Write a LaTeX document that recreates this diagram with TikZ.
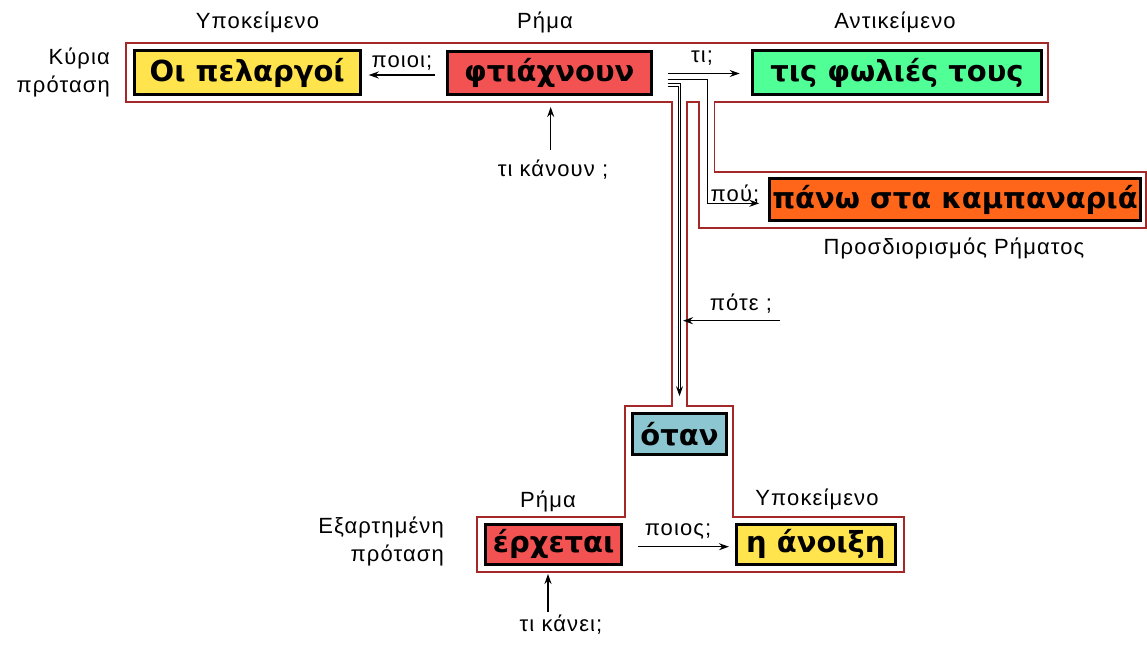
\documentclass[tikz,border=0pt]{standalone}
\usepackage{fontspec}
\setmainfont{Liberation Sans}
\newfontfamily\boxfont{DejaVu Sans}
\newfontfamily\labfont[LetterSpace=5]{Liberation Sans}
\usetikzlibrary{arrows.meta,calc}
\definecolor{outred}{RGB}{165,40,40}
\definecolor{fred}{RGB}{242,82,82}
\definecolor{fyellow}{RGB}{255,228,77}
\definecolor{fgreen}{RGB}{80,255,150}
\definecolor{forange}{RGB}{255,102,26}
\definecolor{fblue}{RGB}{140,198,208}
\begin{document}
\begin{tikzpicture}[x=1pt,y=-1pt,
  lab/.style={font=\labfont\fontsize{22}{28}\selectfont, inner sep=0pt},
  wbox/.style={draw=black, line width=3pt, inner sep=0pt,
    font=\boxfont\bfseries\fontsize{29}{30}\selectfont},
  outline/.style={draw=outred, line width=1.8pt},
  conn/.style={draw=black, line width=1.3pt, -{Stealth[length=10pt,width=7pt]}},
  dbl/.style={draw=black, line width=1pt, double=white, double distance=1.5pt,
    -{Stealth[length=10pt,width=7pt]}},
]
\useasboundingbox (0,0) rectangle (1147,650);

% red outline
\draw[outline] (126,43.3) -- (1048,43.3) -- (1048,101.7) -- (714.5,101.7)
  -- (714.5,172) -- (1146,172) -- (1146,228.3) -- (699,228.3) -- (699,101.7)
  -- (686.7,101.7) -- (686.7,405.7) -- (733.3,405.7) -- (733.3,516.7)
  -- (904,516.7) -- (904,571.7) -- (476.7,571.7) -- (476.7,516.7)
  -- (625,516.7) -- (625,405.7) -- (671.7,405.7) -- (671.7,101.7)
  -- (126,101.7) -- cycle;

% boxes
\node[wbox, fill=fyellow, minimum width=226pt, minimum height=44pt] (pel) at (247.2,73) {Οι πελαργοί};
\node[wbox, fill=fred, minimum width=203.7pt, minimum height=43pt] (fti) at (549.3,73) {φτιάχνουν};
\node[wbox, fill=fgreen, minimum width=289.6pt, minimum height=43.7pt] (obj) at (897,72.7) {τις φωλιές τους};
\node[wbox, fill=forange, minimum width=370.4pt, minimum height=41.4pt] (adv) at (955,199.5) {πάνω στα καμπαναριά};
\node[wbox, fill=fblue, minimum width=94.6pt, minimum height=40.7pt] (otan) at (679.5,434) {όταν};
\node[wbox, fill=fred, minimum width=136.3pt, minimum height=40.3pt] (erx) at (553.7,544.3) {έρχεται};
\node[wbox, fill=fyellow, minimum width=158.7pt, minimum height=40.3pt] (anoi) at (815.8,544.3) {η άνοιξη};

% labels
\node[lab] (lsubj) at (257.5,22) {Υποκείμενο};
\node[lab] (lverb) at (545,22) {Ρήμα};
\node[lab] (lobj) at (895,22) {Αντικείμενο};
\node[lab, align=right, anchor=east] (lmain) at (110,72) {Κύρια\\πρόταση};
\node[lab] (lpoioi) at (402,63) {ποιοι;};
\node[lab] (lti) at (702,58) {τι;};
\node[lab] (lpou) at (735,195) {πού;};
\node[lab] (ladv) at (954,248) {Προσδιορισμός Ρήματος};
\node[lab] (lpote) at (741,304) {πότε ;};
\node[lab] (ltik) at (553,170) {τι κάνουν ;};
\node[lab] (lverb2) at (548,501) {Ρήμα};
\node[lab] (lsubj2) at (817,499) {Υποκείμενο};
\node[lab, align=right, anchor=east] (lsub) at (444,541) {Εξαρτημένη\\πρόταση};
\node[lab] (lpoios) at (678,531) {ποιος;};
\node[lab] (ltike) at (561,625) {τι κάνει;};

% connectors
\coordinate (c1) at ($(fti.east)+(15,0.5)$);
\coordinate (c2) at ($(fti.east)+(15,6.3)$);
\coordinate (c2b) at (707.5,79.3);
\coordinate (c2c) at (707.5,203.3);
\coordinate (c3) at ($(fti.east)+(15,12)$);
\coordinate (c3b) at (679.5,85);
\coordinate (pote) at (780,320.7);
\coordinate (stem) at (683,320.7);
\coordinate (tk) at (550.7,150);
\coordinate (tke) at (548,612);

\draw[conn] ($(fti.west)+(-11,2)$) -- ($(pel.east)+(7,2)$);
\draw[conn] (c1) -- ($(obj.west)+(-11,0.8)$);
\draw[conn] (c2) -- (c2b) -- (c2c) -- ($(adv.west)+(-9,3.8)$);
\draw[dbl] (c3) -- (c3b) -- ($(otan.north)+(0,-16)$);
\draw[conn] (pote) -- (stem);
\draw[conn] (tk) -- ($(fti.south)+(1.4,11)$);
\draw[conn] ($(erx.east)+(15,2.4)$) -- ($(anoi.west)+(-6,2.4)$);
\draw[conn] (tke) -- ($(erx.south)+(-5.7,8)$);
\end{tikzpicture}
\end{document}
